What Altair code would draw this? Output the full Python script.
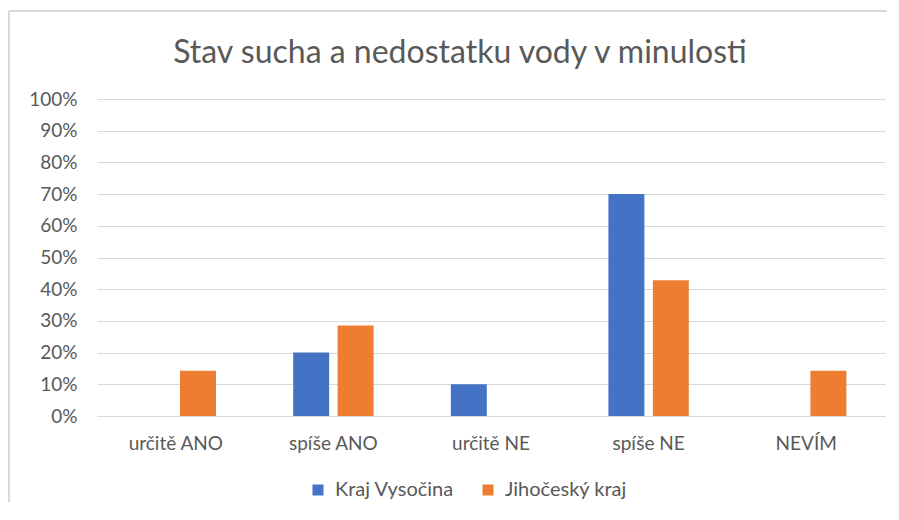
import altair as alt
import pandas as pd

categories = ["určitě ANO", "spíše ANO", "určitě NE", "spíše NE", "NEVÍM"]
series = ["Kraj Vysočina", "Jihočeský kraj"]
vysocina = [0, 20, 10, 70, 0]
jihocesky = [14.29, 28.57, 0, 42.86, 14.29]
colors = ["#4472C4", "#ED7D31"]
title_text = "Stav sucha a nedostatku vody v minulosti"

rows = []
for name, vals in zip(series, [vysocina, jihocesky]):
    for cat, v in zip(categories, vals):
        rows.append({"kategorie": cat, "kraj": name, "podil": v / 100})
df = pd.DataFrame(rows)

FONT = "Lato"
GREY = "#595959"
GRID = "#D9D9D9"

bars = alt.Chart(df).mark_bar().encode(
    x=alt.X(
        "kategorie:N",
        sort=categories,
        scale=alt.Scale(paddingInner=0.49, paddingOuter=0.245),
        axis=alt.Axis(
            title=None, labelAngle=0, labelFontSize=19, labelColor=GREY,
            labelFont=FONT, labelPadding=18, ticks=False, domainColor=GRID,
            domainWidth=1,
        ),
    ),
    xOffset=alt.XOffset(
        "kraj:N", sort=series, scale=alt.Scale(paddingInner=0.19, paddingOuter=0)
    ),
    y=alt.Y(
        "podil:Q",
        scale=alt.Scale(domain=[0, 1]),
        axis=alt.Axis(
            title=None, format=".0%", values=[i / 10 for i in range(11)],
            labelFontSize=19, labelColor=GREY, labelFont=FONT, labelPadding=20,
            ticks=False, domain=False, gridColor=GRID, gridWidth=1,
        ),
    ),
    color=alt.Color(
        "kraj:N",
        sort=series,
        scale=alt.Scale(domain=series, range=colors),
        legend=alt.Legend(
            title=None, orient="none", legendX=211, legendY=381,
            direction="horizontal", symbolType="square", symbolSize=121,
            symbolStrokeWidth=0, labelFontSize=20, labelColor=GREY,
            labelFont=FONT, columnPadding=24, labelOffset=7,
        ),
    ),
)

one = pd.DataFrame({"f": [0]})
frame_top = alt.Chart(one).mark_rule(color=GRID, strokeWidth=2).encode(
    x=alt.value(-88), x2=alt.value(810), y=alt.value(-88)
)
frame_left = alt.Chart(one).mark_rule(color=GRID, strokeWidth=2).encode(
    x=alt.value(-88), y=alt.value(-88), y2=alt.value(420)
)

chart = alt.layer(frame_top, frame_left, bars).properties(
    width=788,
    height=317,
    title=alt.TitleParams(
        title_text, fontSize=32, font=FONT, color=GREY, fontWeight="normal",
        anchor="middle", dx=-31, offset=-60, frame="group",
    ),
    autosize=alt.AutoSizeParams(type="none"),
    padding={"left": 89, "top": 91, "right": 2, "bottom": 86},
).configure_view(stroke=None)

chart.save("out.html", embed_options={"renderer": "svg", "actions": False})
